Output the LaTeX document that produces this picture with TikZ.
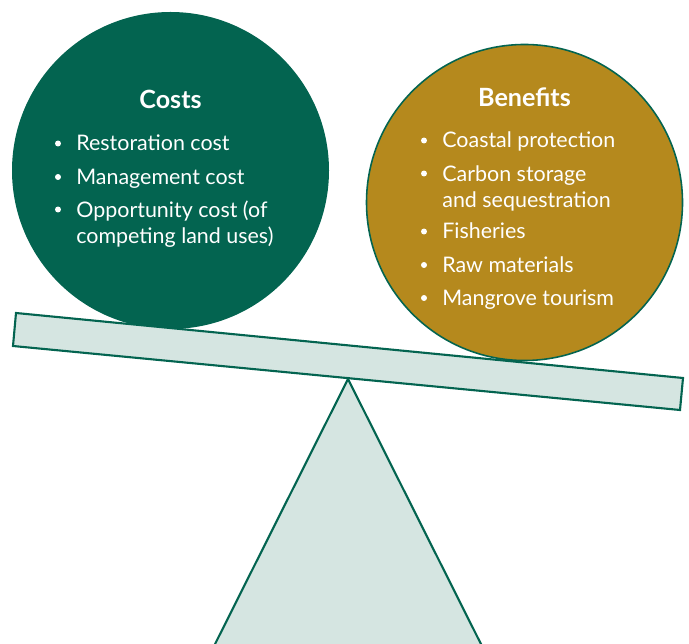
\documentclass[tikz,border=0pt]{standalone}
\usepackage{fontspec}
\setmainfont{Lato}

\definecolor{darkgreen}{HTML}{036450}
\definecolor{gold}{HTML}{B5891D}
\definecolor{palegreen}{HTML}{D5E5E1}

\tikzset{
    headtext/.style={text=white, anchor=base, inner sep=0pt, font=\fontsize{14.3}{17}\selectfont\bfseries},
    itemtext/.style={text=white, anchor=base west, align=left, inner sep=0pt, font=\fontsize{12.2}{15}\selectfont},
    dot/.style={circle, fill=white, inner sep=0pt, minimum size=3.4pt}
}

\begin{document}
\begin{tikzpicture}[x=0.02cm, y=-0.02cm]
                \useasboundingbox (0,0) rectangle (689,644);
                \clip (0,0) rectangle (689,644);

                % Costs circle (left)
                \fill[darkgreen] (170.5,170.5) circle[radius=158.5];
                \node[headtext] (costs) at (170.5,109) {Costs};
                % bullet y / baseline of last line / text
                \foreach \by/\y/\txt [count=\i] in {143.5/151/Restoration cost, 177/184.5/Management cost, 209.5/243.5/{Opportunity cost (of\\competing land uses)}} {
                    \node[dot] (cdot\i) at (58,\by) {};
                    \node[itemtext] (citem\i) at (76,\y) {\txt};
                }

                % Benefits circle (right)
                \filldraw[fill=gold, draw=darkgreen, line width=0.9pt] (524.5,202.5) circle[radius=158];
                \node[headtext] (benefits) at (524.5,107) {Benefits};
                \foreach \by/\y/\txt [count=\i] in {140.5/148/Coastal protection, 173.5/207.5/{Carbon storage\\and sequestration}, 231.5/239/Fisheries, 265/272.5/Raw materials, 298/305.5/Mangrove tourism} {
                    \node[dot] (bdot\i) at (424,\by) {};
                    \node[itemtext] (bitem\i) at (442,\y) {\txt};
                }

                % Tilted beam
                \filldraw[fill=palegreen, draw=darkgreen, line width=1.2pt, line join=miter]
                    (16,313) -- (683,378) -- (680,410) -- (13,346) -- cycle;

                % Pivot
                \filldraw[fill=palegreen, draw=darkgreen, line width=1.2pt]
                    (348,379) -- (200,674) -- (496,674) -- cycle;
            \end{tikzpicture}
\end{document}
